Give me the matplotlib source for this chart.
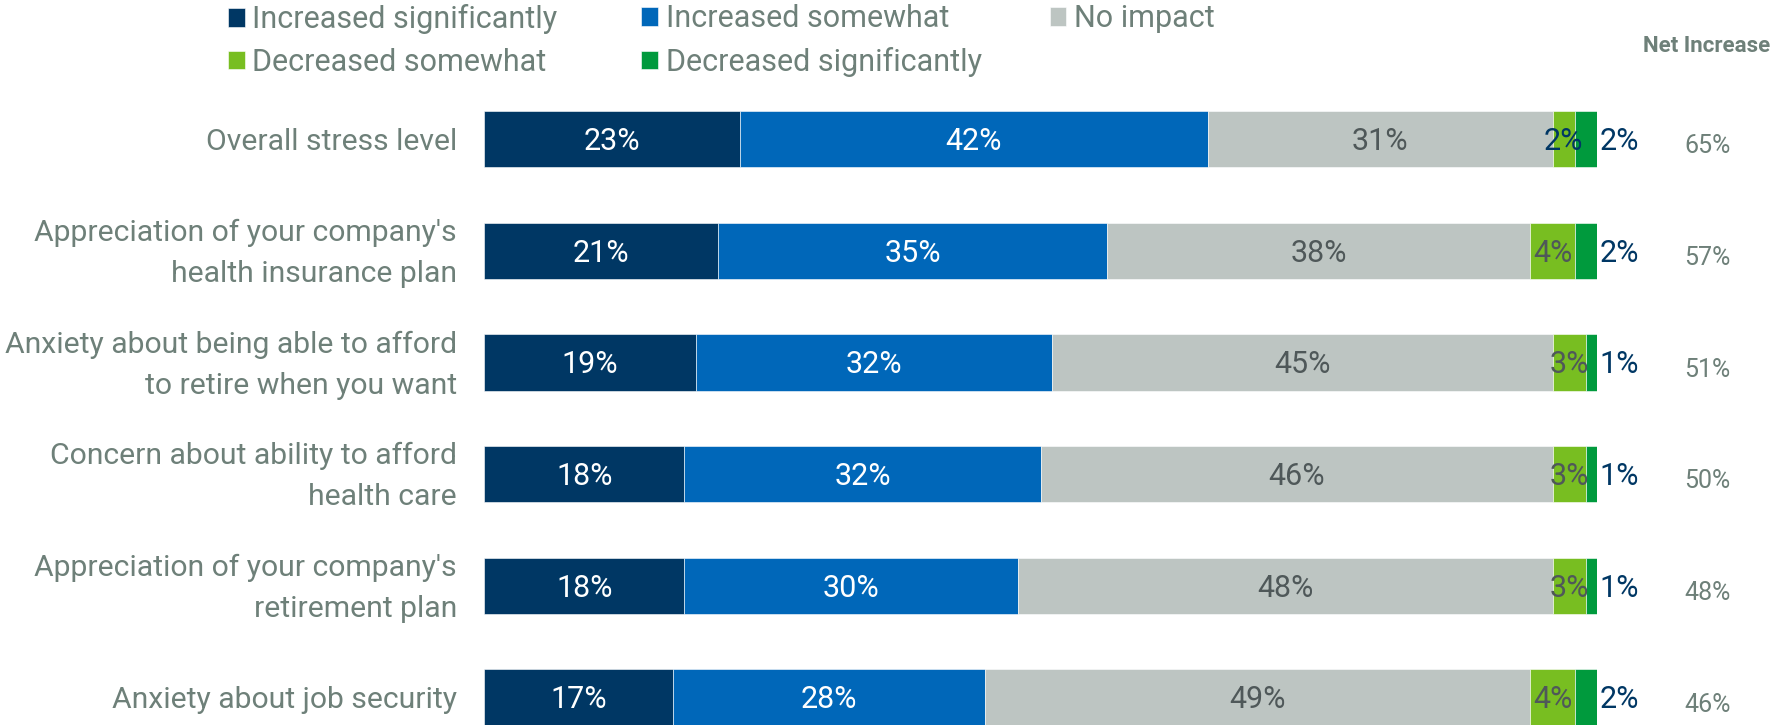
import matplotlib.pyplot as plt
import matplotlib.transforms as mtransforms
import numpy as np

# survey items, top to bottom
items = [
    "Overall stress level",
    "Appreciation of your company's\nhealth insurance plan",
    "Anxiety about being able to afford\nto retire when you want",
    "Concern about ability to afford\nhealth care",
    "Appreciation of your company's\nretirement plan",
    "Anxiety about job security",
]
inc_sig = [23, 21, 19, 18, 18, 17]
inc_some = [42, 35, 32, 32, 30, 28]
no_impact = [31, 38, 45, 46, 48, 49]
dec_some = [2, 4, 3, 3, 3, 4]
dec_sig = [2, 2, 1, 1, 1, 2]
net_increase = [65, 57, 51, 50, 48, 46]

series_names = ["Increased significantly", "Increased somewhat", "No impact",
                "Decreased somewhat", "Decreased significantly"]
colors = ["#003764", "#0067B9", "#BDC5C2", "#78BE21", "#009A3D"]
label_colors = ["white", "white", "#4F5859", "#4F5859", "#003764"]
text_gray = "#6E8079"

plt.rcParams['font.family'] = ['Roboto', 'DejaVu Sans']

fig = plt.figure(figsize=(17.73, 7.25), dpi=100)
ax = fig.add_axes([0.273, 0.0, 0.6278, 1.0])

y = np.arange(len(items))
series = [inc_sig, inc_some, no_impact, dec_some, dec_sig]
left = np.zeros(len(items))
handles = []
for k, vals in enumerate(series):
    vals = np.array(vals, dtype=float)
    bars = ax.barh(y, vals, left=left, height=0.505, color=colors[k],
                   edgecolor="white", linewidth=0.4, label=series_names[k])
    handles.append(bars)
    for i, v in enumerate(vals):
        if k == 4:
            # smallest segment gets its label outside the bar
            ax.text(left[i] + v + 0.2, y[i] + 0.02, f"{int(v)}%", ha="left",
                    va="center", fontsize=22, color=label_colors[k])
        else:
            col = label_colors[k]
            if k == 3 and i == 0:
                col = "#003764"
            ax.text(left[i] + v / 2, y[i] + 0.02, f"{int(v)}%", ha="center",
                    va="center", fontsize=22, color=col)
    left += vals

# net increase column
for i, v in enumerate(net_increase):
    ax.text(109.9, y[i] + 0.063, f"{v}%", ha="center", va="center",
            fontsize=18, color=text_gray)
fig.text(1643 / 1773, 1 - 46 / 725, "Net Increase", ha="left", va="center",
         fontsize=16, color=text_gray, fontweight="bold")

ax.set_xlim(0, 100)
ax.set_ylim(5.245, -1.245)
ax.set_yticks(y)
ax.set_yticklabels(items, fontsize=21.7, color=text_gray, linespacing=1.6,
                   va="center")
ax.tick_params(axis="y", length=0, pad=19.5)
# nudge the category labels down a touch
shift = mtransforms.ScaledTranslation(0, -0.025, fig.dpi_scale_trans)
for lbl in ax.get_yticklabels():
    lbl.set_transform(lbl.get_transform() + shift)
ax.set_xticks([])
for s in ax.spines.values():
    s.set_visible(False)

# legend: one legend per column so each column sits where it should
legend_cols = [([0, 3], 0.113), ([1, 4], 0.3463), ([2], 0.5765)]
for idx, xpos in legend_cols:
    leg = fig.legend([handles[j] for j in idx], [series_names[j] for j in idx],
                     loc="upper left", bbox_to_anchor=(xpos, 1.032),
                     frameon=False, handlelength=0.55, handleheight=0.55,
                     handletextpad=0.25, labelspacing=0.45,
                     prop={"size": 22}, labelcolor=text_gray)

fig.savefig("out.png", dpi=100)
